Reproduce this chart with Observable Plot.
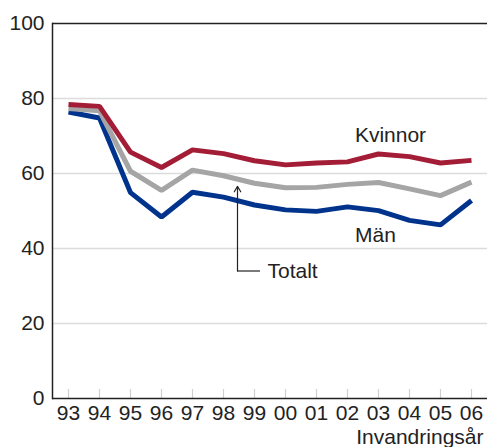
<!DOCTYPE html>
<html>
<head>
<meta charset="utf-8">
<script src="https://cdn.jsdelivr.net/npm/d3@7"></script>
<script src="https://cdn.jsdelivr.net/npm/@observablehq/plot@0.6"></script>
<style>
  html, body { margin: 0; padding: 0; background: #fff; }
</style>
</head>
<body>
<div id="chart"></div>
<script>
const years = ["93","94","95","96","97","98","99","00","01","02","03","04","05","06"];
const kvinnor = [78.4, 77.9, 65.7, 61.6, 66.3, 65.3, 63.4, 62.3, 62.8, 63.1, 65.2, 64.5, 62.8, 63.5];
const totalt  = [77.3, 76.7, 60.6, 55.5, 60.9, 59.4, 57.4, 56.2, 56.3, 57.1, 57.6, 55.9, 54.1, 57.7];
const man     = [76.4, 74.8, 54.9, 48.4, 55.0, 53.7, 51.6, 50.3, 49.9, 51.1, 50.1, 47.5, 46.3, 52.8];
const seriesNames = ["Män", "Totalt", "Kvinnor"];
const seriesColors = ["#00338c", "#a5a5a5", "#a31d36"];
const yTicks = [0, 20, 40, 60, 80, 100];
const gridTicks = [20, 40, 60, 80];
const xLabel = "Invandringsår";

const values = {"Män": man, "Totalt": totalt, "Kvinnor": kvinnor};
const data = seriesNames.flatMap(s => years.map((y, i) => ({series: s, year: y, value: values[s][i]})));

const pointer = [{year: "98", from: 34.0, to: 56.6, next: "99"}];

const chart = Plot.plot({
  width: 487,
  height: 447,
  marginLeft: 52,
  marginRight: 0,
  marginTop: 23,
  marginBottom: 49,
  style: {fontFamily: "'Liberation Sans', Arial, sans-serif", fontSize: "21px", color: "#222", background: "#fff"},
  x: {type: "point", domain: years, padding: 0.5},
  y: {domain: [0, 100]},
  color: {domain: seriesNames, range: seriesColors},
  marks: [
    Plot.ruleY(gridTicks, {stroke: "#dcdcdc", strokeWidth: 1.5}),
    Plot.ruleX(years, {x: d => d, y1: 0, y2: 2.4, stroke: "#cfcfcf", strokeWidth: 1.2}),
    Plot.ruleY([0, 100], {stroke: "#222", strokeWidth: 1.5}),
    Plot.frame({anchor: "left", stroke: "#222", strokeWidth: 1.5}),
    Plot.axisY({ticks: yTicks, tickSize: 0, tickPadding: 8, label: null}),
    Plot.axisX({tickSize: 0, tickPadding: 7, label: null}),
    Plot.text([xLabel], {frameAnchor: "bottom-right", dy: 45, dx: -4, lineAnchor: "bottom", textAnchor: "end", fill: "#222"}),
    Plot.lineY(data, {x: "year", y: "value", z: "series", stroke: "series", strokeWidth: 5, strokeLinejoin: "miter", strokeLinecap: "butt"}),
    Plot.ruleY(pointer, {y: "from", x1: "year", x2: "next", dx: 14, insetRight: 8, stroke: "#222", strokeWidth: 1.2}),
    Plot.arrow(pointer, {x1: "year", x2: "year", y1: "from", y2: "to", dx: 14, stroke: "#222", strokeWidth: 1.2, headLength: 8, bend: 0}),
    Plot.text(["Kvinnor"], {x: () => "03", y: () => 70.1, dx: 12, textAnchor: "middle", fill: "#222"}),
    Plot.text(["Män"], {x: () => "03", y: () => 43.6, dx: -3, textAnchor: "middle", fill: "#222"}),
    Plot.text(["Totalt"], {x: () => "99", y: () => 34.0, dx: 13, textAnchor: "start", fill: "#222"})
  ]
});
document.getElementById("chart").append(chart);
</script>
</body>
</html>
